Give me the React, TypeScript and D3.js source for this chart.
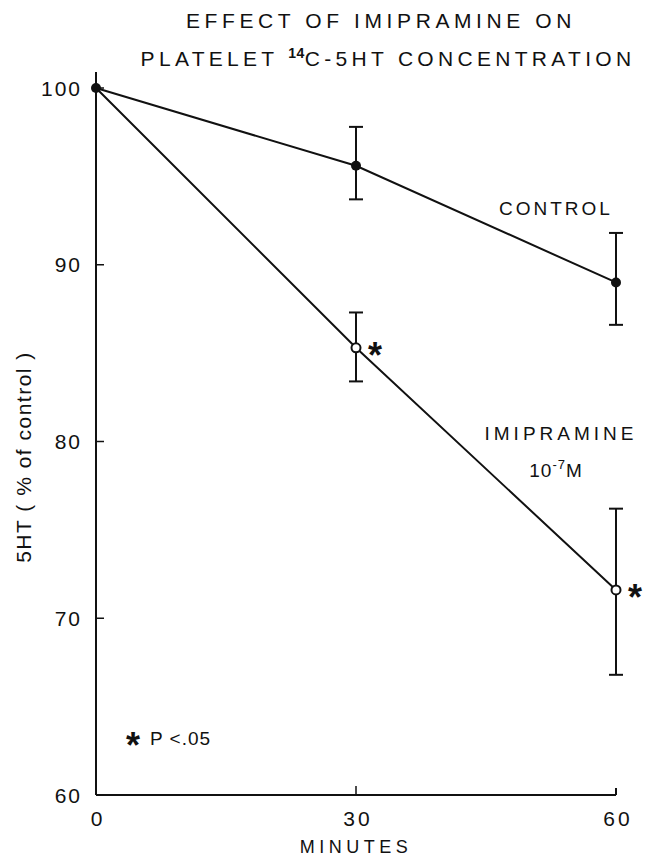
import React from "react";
import * as d3 from "d3";

const minutes = [0, 30, 60];
const controlMean = [100, 95.6, 89.0];
const controlHigh = [100, 97.8, 91.8];
const controlLow = [100, 93.7, 86.6];
const imiMean = [100, 85.3, 71.6];
const imiHigh = [100, 87.3, 76.2];
const imiLow = [100, 83.4, 66.8];
const imiSignificant = [false, true, true];
const yTicks = [60, 70, 80, 90, 100];
const xTicks = [0, 30, 60];

const W = 654;
const H = 858;
const FONT = "'Liberation Sans', Arial, sans-serif";

export default function App() {
  const x = d3.scaleLinear().domain([0, 60]).range([96, 616]);
  const y = d3.scaleLinear().domain([60, 100]).range([795, 88]);
  const line = d3
    .line<number>()
    .x((_, i) => x(minutes[i]))
    .y((d) => y(d));

  const errBars = (hi: number[], lo: number[], key: string) =>
    minutes.map((m, i) =>
      hi[i] === lo[i] ? null : (
        <g key={key + i} stroke="#111" strokeWidth={2}>
          <line x1={x(m)} x2={x(m)} y1={y(hi[i])} y2={y(lo[i])} />
          <line x1={x(m) - 7} x2={x(m) + 7} y1={y(hi[i])} y2={y(hi[i])} />
          <line x1={x(m) - 7} x2={x(m) + 7} y1={y(lo[i])} y2={y(lo[i])} />
        </g>
      )
    );

  return (
    <svg
      width={W}
      height={H}
      style={{ position: "absolute", left: 0, top: 0, background: "#fff" }}
      fontFamily={FONT}
    >
      <rect width={W} height={H} fill="#fff" />
      {/* Title */}
      <text x={381} y={28} fontSize={21} textAnchor="middle" letterSpacing={4.6} fill="#111">
        EFFECT OF IMIPRAMINE ON
      </text>
      <text x={388} y={66} fontSize={21} textAnchor="middle" letterSpacing={4.3} fill="#111">
        PLATELET <tspan fontSize={14} dy={-8} letterSpacing={0.5} fontWeight="bold">14</tspan>
        <tspan dy={8}>C-5HT CONCENTRATION</tspan>
      </text>

      {/* Axes */}
      <g stroke="#111" strokeWidth={2} fill="none">
        <line x1={x(0)} x2={x(0)} y1={y(100) - 16} y2={y(60)} />
        <line x1={x(0)} x2={x(60)} y1={y(60)} y2={y(60)} />
        <line x1={x(60)} x2={x(60)} y1={y(60)} y2={y(60) - 7} />
        {yTicks.map((t) => (
          <line key={"yt" + t} x1={x(0)} x2={x(0) + 8} y1={y(t)} y2={y(t)} strokeWidth={1.5} />
        ))}
        <line x1={x(30)} x2={x(30)} y1={y(60)} y2={y(60) - 9} strokeWidth={1.5} />
      </g>
      {yTicks.map((t) => (
        <text key={"yl" + t} x={x(0) - 14} y={y(t) + 7.5} fontSize={21} textAnchor="end" letterSpacing={2} fill="#111">
          {t}
        </text>
      ))}
      {xTicks.map((t) => (
        <text key={"xl" + t} x={x(t) + 2} y={y(60) + 31} fontSize={21} textAnchor="middle" letterSpacing={3} fill="#111">
          {t}
        </text>
      ))}
      <text x={x(30)} y={853} fontSize={18} textAnchor="middle" letterSpacing={4.5} fill="#111">
        MINUTES
      </text>
      <text
        transform={`translate(31, 457) rotate(-90)`}
        fontSize={21}
        textAnchor="middle"
        letterSpacing={1.5}
        fill="#111"
      >
        5HT  ( % of control )
      </text>

      {/* Lines */}
      <path d={line(controlMean) || ""} fill="none" stroke="#111" strokeWidth={2} />
      <path d={line(imiMean) || ""} fill="none" stroke="#111" strokeWidth={2} />
      {errBars(controlHigh, controlLow, "c")}
      {errBars(imiHigh, imiLow, "i")}
      {minutes.map((m, i) => (
        <circle key={"cp" + i} cx={x(m)} cy={y(controlMean[i])} r={5} fill="#111" />
      ))}
      {minutes.map((m, i) =>
        i === 0 ? null : (
          <circle key={"ip" + i} cx={x(m)} cy={y(imiMean[i])} r={4.5} fill="#fff" stroke="#111" strokeWidth={2} />
        )
      )}
      {minutes.map((m, i) =>
        imiSignificant[i] ? (
          <text key={"s" + i} x={x(m) + 12} y={y(imiMean[i]) + 20} fontSize={36} fontWeight="bold" fill="#111">
            *
          </text>
        ) : null
      )}

      {/* Labels */}
      <text x={556} y={215} fontSize={19} textAnchor="middle" letterSpacing={3} fill="#111">
        CONTROL
      </text>
      <text x={561} y={440} fontSize={19} textAnchor="middle" letterSpacing={4} fill="#111">
        IMIPRAMINE
      </text>
      <text x={556} y={477} fontSize={19} textAnchor="middle" letterSpacing={1} fill="#111">
        10<tspan fontSize={13} dy={-8}>-7</tspan>
        <tspan dy={8}>M</tspan>
      </text>
      <text x={126} y={758} fontSize={36} fontWeight="bold" fill="#111">
        *
      </text>
      <text x={150} y={745} fontSize={19} fill="#111" letterSpacing={1}>
        P &lt;.05
      </text>
    </svg>
  );
}
